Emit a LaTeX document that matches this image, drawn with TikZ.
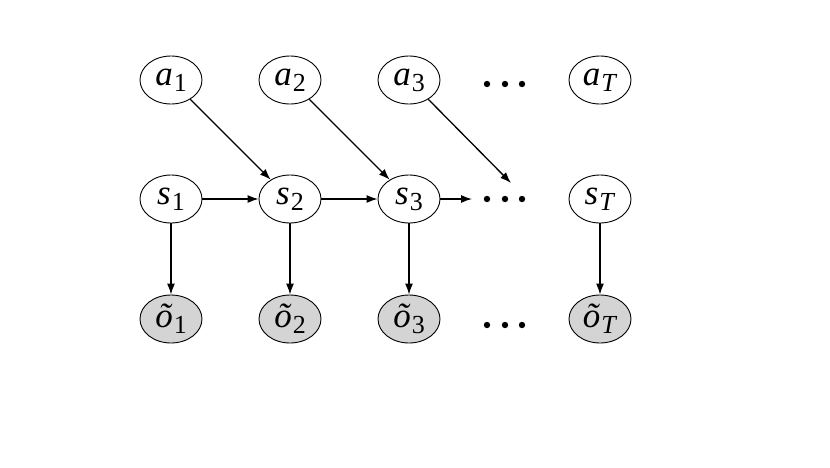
\documentclass[tikz,border=0pt]{standalone}
\usepackage{fontspec}
\setmainfont{Liberation Serif}
\usetikzlibrary{arrows.meta,shapes.geometric}
\newcommand\lab[2]{{\itshape #1}\kern1pt\raisebox{-6pt}{\fontsize{26}{26}\selectfont #2}}
\begin{document}
\begin{tikzpicture}[x=1pt,y=-1pt,
  var/.style={ellipse,draw,line width=0.9pt,minimum width=62pt,minimum height=48pt,inner sep=0pt,
    font=\fontsize{35}{40}\selectfont},
  obs/.style={var,fill=black!17},
  edge/.style={line width=1.3pt,-{Latex[length=11pt,width=8pt]}},
  dotc/.style={fill=black}]
\useasboundingbox (0,0) rectangle (830,467);
\node[var] (a1) at (171,80) {\lab{a}{1}};
\node[var] (a2) at (290,80) {\lab{a}{2}};
\node[var] (a3) at (409,80) {\lab{a}{3}};
\node[var] (aT) at (600,80) {\lab{a}{\textit{T}}};
\node[var] (s1) at (171,199) {\lab{s}{1}};
\node[var] (s2) at (290,199) {\lab{s}{2}};
\node[var] (s3) at (409,199) {\lab{s}{3}};
\node[var] (sT) at (600,199) {\lab{s}{\textit{T}}};
\node[obs] (o1) at (171,319) {\lab{õ}{1}};
\node[obs] (o2) at (290,319) {\lab{õ}{2}};
\node[obs] (o3) at (409,319) {\lab{õ}{3}};
\node[obs] (oT) at (600,319) {\lab{õ}{\textit{T}}};
\foreach \y in {84,199,325}{
  \foreach \x in {487,505,522}{\fill[dotc] (\x,\y) circle (3.2pt);}}
\coordinate (ad) at (511,183);
\coordinate (sd) at (472,199);
\draw[edge] (a1) -- (s2);
\draw[edge] (a2) -- (s3);
\draw[edge] (a3.-45) -- (ad);
\draw[edge] (s1) -- (s2);
\draw[edge] (s2) -- (s3);
\draw[edge] (s3) -- (sd);
\draw[edge] (s1) -- (o1);
\draw[edge] (s2) -- (o2);
\draw[edge] (s3) -- (o3);
\draw[edge] (sT) -- (oT);
\end{tikzpicture}
\end{document}
